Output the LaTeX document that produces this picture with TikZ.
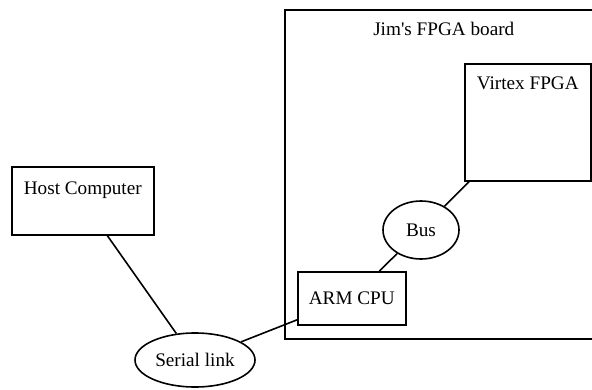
\documentclass[tikz,border=0pt]{standalone}
\usepackage{fontspec}
\setmainfont{Liberation Serif}
\usetikzlibrary{shapes.geometric}

\tikzset{
  boxnode/.style={draw, rectangle, line width=1.2pt, inner sep=0pt, anchor=north west},
  ovalnode/.style={draw, ellipse, line width=1.2pt, inner sep=0pt},
}

\begin{document}
\begin{tikzpicture}[x=0.75pt, y=-0.75pt, font=\fontsize{14.4}{17}\selectfont]
\clip (0,0) rectangle (592,389);

% the board cluster
\node[boxnode, minimum width=238.5pt, text height=19.5pt, text depth=227.25pt] (board) at (284,9) {Jim\textquotesingle s FPGA board};

\node[boxnode, minimum width=106.5pt, text height=21pt, text depth=30pt] (host) at (11,166) {Host Computer};
\node[boxnode, minimum width=94.5pt, text height=19.5pt, text depth=68.25pt] (virtex) at (464,63) {Virtex FPGA};
\node[boxnode, minimum width=81pt, minimum height=39.75pt] (arm) at (297,271) {ARM CPU};
\node[ovalnode, minimum width=57pt, minimum height=43.5pt] (bus) at (421,230) {Bus};
\node[ovalnode, minimum width=90pt, minimum height=40.5pt] (serial) at (195,360) {Serial link};

\begin{scope}[every edge/.style={draw=black, line width=1.2pt}]
    \path (host) edge (serial);
    \path (serial) edge (arm);
    \path (arm) edge (bus);
    \path (bus) edge (virtex);
\end{scope}
\end{tikzpicture}
\end{document}
